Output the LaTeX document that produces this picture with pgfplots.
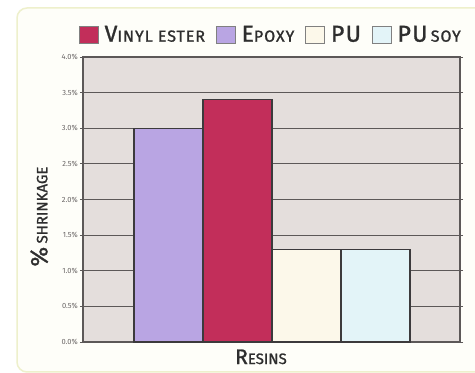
\documentclass[border=0pt]{standalone}
\usepackage{pgfplots}
\pgfplotsset{compat=1.18}
\usepackage{fontspec}
\setmainfont{Fira Sans}
\newfontfamily\lgfont[LetterSpace=6, FakeBold=1.2]{Fira Sans}
\newfontfamily\lbfont[FakeBold=1.2]{Fira Sans}

\definecolor{vinyl}{HTML}{C22E5A}
\definecolor{epoxy}{HTML}{B9A5E3}
\definecolor{pu}{HTML}{FCF8EA}
\definecolor{pusoy}{HTML}{E3F4F8}
\definecolor{barline}{HTML}{3C3A3C}
\definecolor{gridcol}{HTML}{5C5858}
\definecolor{plotbg}{HTML}{E4DEDC}
\definecolor{tickcol}{HTML}{6A6666}
\definecolor{labelcol}{HTML}{2E2E2E}
\definecolor{framecol}{HTML}{EEF0CC}
\definecolor{framefill}{HTML}{FEFEF9}

% hand-made small caps: large initial, smaller capitals after it
\newcommand{\smc}[4]{{\fontsize{#3}{#3}\selectfont #1}{\fontsize{#4}{#4}\selectfont #2}}

\begin{document}
\begin{tikzpicture}
\useasboundingbox (0pt,0pt) rectangle (475pt,373pt);
\fill[white] (0pt,0pt) rectangle (475pt,373pt);
\begin{scope}
  \clip (0pt,0pt) rectangle (475pt,373pt);
  \draw[framecol, line width=1.5pt, fill=framefill, rounded corners=10pt]
    (17pt,1pt) rectangle (500pt,365pt);
\end{scope}
\begin{axis}[
  at={(83pt,31pt)}, anchor=south west,
  scale only axis, width=377pt, height=285pt,
  xmin=-1.239, xmax=4.225, ymin=0, ymax=4,
  ytick={0,0.5,1,1.5,2,2.5,3,3.5,4},
  xtick=\empty,
  ymajorgrids,
  grid style={gridcol, line width=1pt},
  axis line style={gridcol, line width=1.1pt},
  axis background/.style={fill=plotbg},
  tick align=outside, major tick length=3pt,
  tick style={gridcol, line width=1pt},
  /pgf/number format/assume math mode=true,
  yticklabel={\pgfmathprintnumber[fixed,fixed zerofill,precision=1]{\tick}\%},
  yticklabel style={font=\fontsize{7.5}{7.5}\selectfont, text=tickcol, inner sep=2pt},
  ylabel={{\fontsize{24}{24}\selectfont\%}\,\,{\fontsize{15}{15}\selectfont SHRINKAGE}},
  ylabel style={at={(ticklabel cs:0.44)}, text=labelcol, font=\lbfont, yshift=8pt},
  xlabel={\smc{R}{ESINS}{21}{15}},
  xlabel style={at={(ticklabel cs:0.472)}, text=labelcol, font=\lbfont, yshift=-1pt},
  ybar, bar width=1,
  legend columns=4,
  legend style={at={(1.008,1)}, anchor=east, yshift=22.5pt,
    draw=none, fill=none, text=labelcol, inner sep=0pt,
    font=\lgfont,
    /tikz/every odd column/.append style={column sep=4pt},
    /tikz/every even column/.append style={column sep=9pt}},
  legend image code/.code={\draw[#1, draw=gray, line width=0.6pt] (0pt,-8.5pt) rectangle (19pt,8.5pt);},
]
\addplot[fill=vinyl, draw=barline, line width=1.1pt, bar shift=0pt] coordinates {(1,3.4)};
\addlegendentry{\smc{V}{INYL ESTER}{23}{16}}
\addplot[fill=epoxy, draw=barline, line width=1.1pt, bar shift=0pt] coordinates {(0,3.0)};
\addlegendentry{\smc{E}{POXY}{23}{16}}
\addplot[fill=pu, draw=barline, line width=1.1pt, bar shift=0pt] coordinates {(2,1.3)};
\addlegendentry{{\fontsize{23}{23}\selectfont PU}}
\addplot[fill=pusoy, draw=barline, line width=1.1pt, bar shift=0pt] coordinates {(3,1.3)};
\addlegendentry{{\fontsize{23}{23}\selectfont PU} {\fontsize{16}{16}\selectfont SOY}}
\end{axis}
\end{tikzpicture}
\end{document}
